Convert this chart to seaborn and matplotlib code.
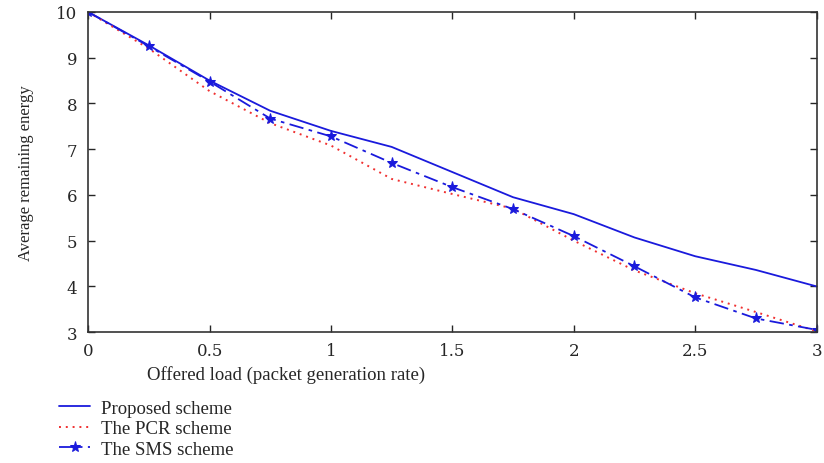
import numpy as np
import pandas as pd
import matplotlib
matplotlib.use('Agg')
import matplotlib.pyplot as plt
import seaborn as sns

load = [0, 0.25, 0.5, 0.75, 1.0, 1.25, 1.5, 1.75, 2.0, 2.25, 2.5, 2.75, 3.0]
proposed = [10, 9.27, 8.5, 7.84, 7.4, 7.05, 6.5, 5.95, 5.58, 5.07, 4.66, 4.36, 4.0]
pcr = [10, 9.2, 8.27, 7.57, 7.08, 6.35, 6.02, 5.7, 5.0, 4.35, 3.85, 3.44, 3.02]
sms = [10, 9.25, 8.48, 7.67, 7.28, 6.7, 6.17, 5.69, 5.1, 4.44, 3.76, 3.3, 3.05]
xticks = [0, 0.5, 1, 1.5, 2, 2.5, 3]
xticklabels = ['0', '0.5', '1', '1.5', '2', '2.5', '3']

sns.set_style('ticks')
plt.rcParams['font.family'] = ['Liberation Serif', 'DejaVu Serif']

df = pd.DataFrame({'load': load, 'proposed': proposed, 'pcr': pcr, 'sms': sms})

fig = plt.figure(figsize=(8.24, 4.64), dpi=100)
ax = fig.add_axes([0.107, 0.282, 0.884, 0.690])

blue = '#1a1adc'
sns.lineplot(data=df, x='load', y='proposed', ax=ax, color=blue, lw=1.3,
             label='Proposed scheme')
sns.lineplot(data=df, x='load', y='pcr', ax=ax, color='#f03030', lw=1.4,
             linestyle=(0, (1, 2.5)), label='The PCR scheme')
sns.lineplot(data=df, x='load', y='sms', ax=ax, color=blue, lw=1.3,
             linestyle=(0, (8, 3, 2, 3)), marker='*', markersize=8,
             markeredgecolor=blue, label='The SMS scheme')

ax.set_xlim(0, 3)
ax.set_ylim(3, 10)
ax.set_xticks(xticks)
ax.set_xticklabels(xticklabels)
ax.set_yticks(range(3, 11))
ax.tick_params(direction='in', top=True, right=True, length=5, width=1)
ax.tick_params(axis='x', pad=7)
ax.tick_params(axis='y', pad=8)
for lab in ax.get_xticklabels() + ax.get_yticklabels():
    lab.set_family('DejaVu Serif')
    lab.set_fontsize(12)
for s in ax.spines.values():
    s.set_linewidth(1.2)
    s.set_color('#333333')
ax.set_xlabel('Offered load (packet generation rate)', fontsize=13.5)
ax.xaxis.set_label_coords(0.272, -0.103)
ax.set_ylabel('Average remaining energy', fontsize=12)
ax.yaxis.set_label_coords(-0.075, 0.5)

# legend sits under the axes, flush left
ax.get_legend().remove()
h, l = ax.get_legend_handles_labels()
fig.legend(h, l, loc='upper left', bbox_to_anchor=(0.062, 0.153), frameon=False,
           fontsize=13.5, handlelength=1.7, handletextpad=0.55,
           labelspacing=0.18, borderaxespad=0)

fig.savefig('out.png', dpi=100)
